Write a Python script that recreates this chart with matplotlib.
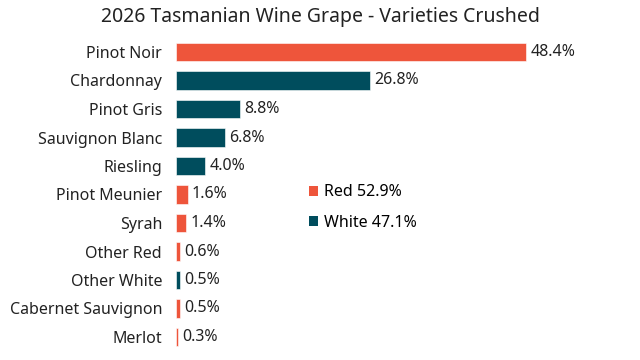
import matplotlib
matplotlib.use("Agg")
import matplotlib.pyplot as plt
from matplotlib.patches import Patch

plt.rcParams['font.family'] = ['Noto Sans', 'DejaVu Sans']

varieties = ["Pinot Noir", "Chardonnay", "Pinot Gris", "Sauvignon Blanc", "Riesling",
             "Pinot Meunier", "Syrah", "Other Red", "Other White",
             "Cabernet Sauvignon", "Merlot"]
shares = [48.4, 26.8, 8.8, 6.8, 4.0, 1.6, 1.4, 0.6, 0.5, 0.5, 0.3]
kinds = ["Red", "White", "White", "White", "White", "Red", "Red", "Red", "White", "Red", "Red"]

group_names = ["Red", "White"]
group_shares = [52.9, 47.1]

RED = "#EE553B"
TEAL = "#004D5D"
colours = {"Red": RED, "White": TEAL}

fig = plt.figure(figsize=(6.4, 3.6), dpi=100)
ax = fig.add_axes([176 / 640, 1 - 351.25 / 360, 444 / 640, (351.25 - 37.75) / 360])

y = list(range(len(varieties)))
ax.barh(y, shares, height=0.66, color=[colours[k] for k in kinds],
        edgecolor="white", linewidth=0.4)
for yi, v in zip(y, shares):
    ax.text(v + 0.6, yi, f"{v:.1f}%", va="center", ha="left", fontsize=11.5, color="#222222")

ax.set_ylim(len(varieties) - 0.5, -0.5)
ax.set_xlim(0, 444 / 7.23)
ax.set_yticks(y)
ax.set_yticklabels(varieties, fontsize=11.5, color="#222222")
ax.tick_params(axis="y", length=0, pad=10)
ax.set_xticks([])
for s in ax.spines.values():
    s.set_visible(False)

handles = [Patch(facecolor=colours[g], label=f"{g} {p:.1f}%") for g, p in zip(group_names, group_shares)]
fig.legend(handles=handles, loc="upper left", bbox_to_anchor=(295 / 640, 1 - 170 / 360),
           frameon=False, fontsize=11.5, handlelength=0.55, handleheight=0.55,
           handletextpad=0.35, labelspacing=0.9)

fig.text(0.5, 1 - 17 / 360, "2026 Tasmanian Wine Grape - Varieties Crushed",
         ha="center", va="center", fontsize=14, color="#222222")

fig.savefig("out.png", dpi=100)
